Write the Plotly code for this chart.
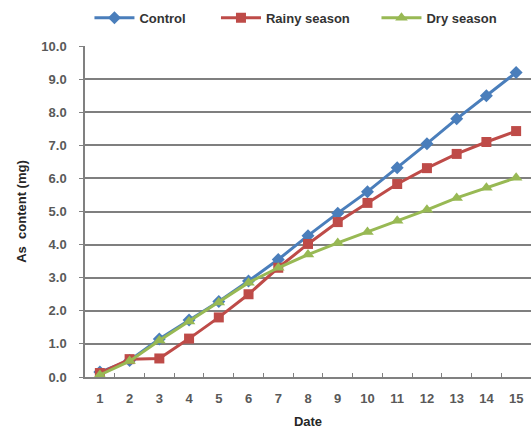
import plotly.graph_objects as go

dates = [str(i) for i in range(1, 16)]
control = [0.15, 0.5, 1.15, 1.72, 2.28, 2.9, 3.55, 4.27, 4.95, 5.6, 6.32, 7.05, 7.8, 8.5, 9.2]
rainy = [0.12, 0.54, 0.56, 1.16, 1.8, 2.5, 3.3, 4.02, 4.68, 5.26, 5.83, 6.31, 6.74, 7.1, 7.43]
dry = [0.06, 0.48, 1.1, 1.68, 2.25, 2.85, 3.3, 3.7, 4.05, 4.38, 4.72, 5.05, 5.41, 5.72, 6.02]
y_ticks = [i * 1.0 for i in range(0, 11)]
y_labels = ["<b>%.1f</b>" % v for v in y_ticks]
x_labels = ["<b>%s</b>" % d for d in dates]

fig = go.Figure()
fig.add_trace(go.Scatter(x=dates, y=control, name="<b>Control</b>" + "\u00a0" * 7, mode="lines+markers",
                         line=dict(color="#4a7ebb", width=3),
                         marker=dict(symbol="diamond", size=10, color="#4a7ebb")))
fig.add_trace(go.Scatter(x=dates, y=rainy, name="<b>Rainy season</b>" + "\u00a0" * 6, mode="lines+markers",
                         line=dict(color="#be4b48", width=3),
                         marker=dict(symbol="square", size=10, color="#be4b48")))
fig.add_trace(go.Scatter(x=dates, y=dry, name="<b>Dry season</b>", mode="lines+markers",
                         line=dict(color="#98b954", width=3),
                         marker=dict(symbol="triangle-up", size=11, color="#98b954")))

fig.update_layout(
    width=531, height=430,
    margin=dict(l=85, r=0, t=46, b=53),
    paper_bgcolor="white", plot_bgcolor="white",
    font=dict(family="Liberation Sans, Arial, sans-serif", color="#404040"),
    legend=dict(orientation="h", x=0.01, xanchor="left", y=1.085, yanchor="middle",
                font=dict(size=13, color="#333333", family="Liberation Sans, Arial, sans-serif"),
                itemwidth=40, traceorder="normal"),
    showlegend=True,
)
fig.update_xaxes(
    type="category", tickson="boundaries", ticks="inside", ticklen=4, tickcolor="#808080",
    tickmode="array", tickvals=dates, ticktext=x_labels, ticklabelstandoff=9,
    showline=True, linecolor="#808080", linewidth=1.5, showgrid=False,
    tickfont=dict(size=13, color="#595959"),
    title=dict(text="<b>Date</b>", font=dict(size=13, color="#262626"), standoff=12),
    range=[-0.5, 14.5],
)
fig.update_yaxes(
    range=[0, 10], tickvals=y_ticks, ticktext=y_labels, ticks="outside", ticklen=4,
    tickcolor="#808080", showline=True, linecolor="#808080", linewidth=1.5,
    showgrid=True, gridcolor="#7f7f7f", gridwidth=1.5, zeroline=False,
    ticklabelstandoff=10,
    tickfont=dict(size=13, color="#595959"),
    title=dict(text="<b>As  content (mg)</b>", font=dict(size=13, color="#262626"), standoff=12),
)

fig.write_html("out.html")
